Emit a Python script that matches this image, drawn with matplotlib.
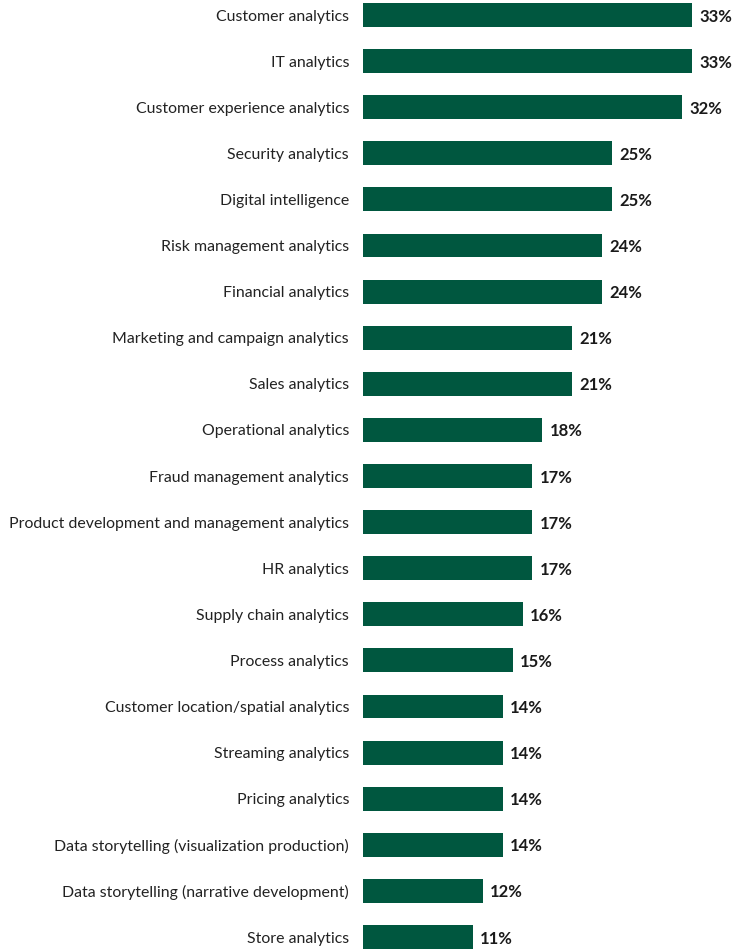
import matplotlib
matplotlib.use("Agg")
import matplotlib.pyplot as plt

categories = [
    "Customer analytics",
    "IT analytics",
    "Customer experience analytics",
    "Security analytics",
    "Digital intelligence",
    "Risk management analytics",
    "Financial analytics",
    "Marketing and campaign analytics",
    "Sales analytics",
    "Operational analytics",
    "Fraud management analytics",
    "Product development and management analytics",
    "HR analytics",
    "Supply chain analytics",
    "Process analytics",
    "Customer location/spatial analytics",
    "Streaming analytics",
    "Pricing analytics",
    "Data storytelling (visualization production)",
    "Data storytelling (narrative development)",
    "Store analytics",
]
values = [33, 33, 32, 25, 25, 24, 24, 21, 21, 18, 17, 17, 17, 16, 15, 14, 14, 14, 14, 12, 11]

plt.rcParams["font.family"] = ["Lato", "DejaVu Sans"]

W, H = 732, 950
fig = plt.figure(figsize=(W / 100, H / 100), dpi=100)
left = 363 / W
ax = fig.add_axes([left, 0, 1 - left, 1])

bar_color = "#00573F"
pos = list(range(len(categories)))
ax.barh(pos, values, height=0.52, color=bar_color)

for y, v in zip(pos, values):
    ax.text(v + 0.7, y, f"{v}%", va="center_baseline", ha="left",
            fontsize=12, fontweight="bold", color="#1a1a1a")

step = 46.1
ax.set_ylim((H - 15) / step, -15 / step)
ax.set_xlim(0, (W - 363) / 9.97)

ax.set_yticks(pos)
ax.set_yticklabels(categories, fontsize=11.45, color="#222222",
                   va="center_baseline")
ax.tick_params(axis="y", length=0, pad=10)
ax.set_xticks([])
for s in ax.spines.values():
    s.set_visible(False)

fig.savefig("out.png", dpi=100)
